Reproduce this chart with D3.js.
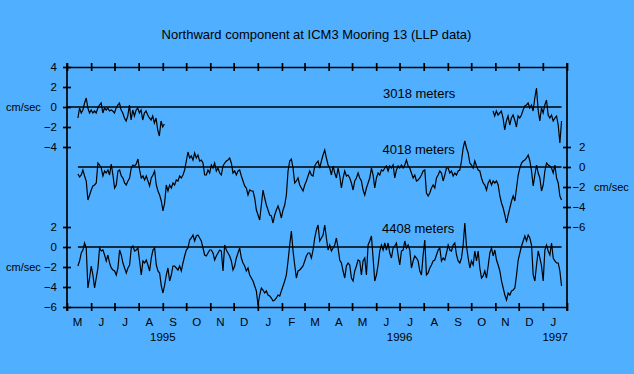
<!DOCTYPE html>
<html>
<head>
<meta charset="utf-8">
<script src="https://cdn.jsdelivr.net/npm/d3@7"></script>
<style>
  body { margin: 0; background: #50b0ff; }
  svg { display: block; font-family: "Liberation Sans", Arial, sans-serif; }
</style>
</head>
<body>
<svg id="chart" width="634" height="374"></svg>
<script>
// month letters along the bottom, May 1995 .. Jan 1997
const monthLetters = ["M","J","J","A","S","O","N","D","J","F","M","A","M","J","J","A","S","O","N","D","J"];
const yearLabels = ["1995", "1996", "1997"];
const yearDates = ["1995-09-01", "1996-07-01", "1997-02-01"];

const topTicks = [4, 2, 0, -2, -4];
const midTicks = [2, 0, -2, -4, -6];
const botTicks = [2, 0, -2, -4, -6];

// 3018 m, two pieces of record (cm/sec)
const top1Start = "1995-05-15", top1End = "1995-09-03";
const top1 = [
  -1.1,-0.1,-0.6,-0.3,0.4,0.9,-0.1,-0.6,-0.3,-0.6,
  -0.4,-0.6,-0.1,0.2,0.4,-0.6,-0.1,-0.3,-0.1,-0.4,
  -0.3,-0.4,-0.6,-0.1,0.2,0.4,-0.3,-0.6,-1.1,-1.4,
  -0.9,0.2,-1.3,-0.3,-0.9,-0.3,-0.1,-0.6,-0.3,-1.3,
  -0.6,-0.4,-0.8,-1.1,-1.3,-0.9,-1.6,-1.1,-2.3,-2.9,
  -1.4,-2.0,-1.7
];
const top2Start = "1996-10-29", top2End = "1997-01-25";
const top2 = [
  -0.4,-0.9,-0.4,-0.8,-0.6,-0.4,-1.1,-2.3,-1.4,-0.9,
  -1.8,-1.1,-0.8,-1.3,-2.0,-0.9,-1.1,-0.8,-0.3,0.1,
  0.2,0.4,-0.1,0.2,-0.4,0.9,1.9,-0.3,-1.4,-0.1,
  -0.6,0.2,0.7,-0.8,-1.1,-0.8,-1.4,-1.1,-0.9,-1.8,
  -3.6,-1.4
];

// 4018 m and 4408 m, same span
const deepStart = "1995-05-15", deepEnd = "1997-01-25";
const mid4018 = [
  -0.7,-1.0,-0.8,-0.3,-0.9,-1.4,-3.3,-2.8,-2.3,-1.9,
  -1.8,-1.6,0.4,0.2,-0.1,-0.9,-0.4,-0.6,-0.3,-0.8,
  0.3,-0.8,-2.1,-1.8,-0.4,-0.3,-0.9,-1.1,-1.6,-1.8,
  -1.4,-1.1,-0.1,0.2,0.1,0.3,0.8,-0.3,-1.1,-0.9,
  -1.3,-0.9,-1.4,-1.9,-1.1,-0.8,-0.4,-1.8,-2.4,-2.8,
  -3.4,-4.4,-3.6,-1.8,-2.4,-1.8,-2.1,-1.6,-1.8,-1.3,
  -1.4,-0.9,-1.1,-0.8,-0.3,0.6,1.5,0.9,1.1,0.7,
  1.4,0.9,1.2,0.6,0.7,0.4,-0.8,-0.8,-0.3,-0.6,
  0.2,-0.1,0.4,-0.4,-0.1,-0.6,-0.8,0.1,0.4,0.6,
  0.7,0.9,0.4,-0.6,-0.4,-0.8,-0.4,-0.3,
  -0.9,-1.4,-1.9,-2.1,-2.8,-2.3,-2.4,-2.4,-3.1,-4.3,
  -4.8,-5.3,-3.8,-2.3,-3.1,-3.8,-4.3,-4.8,-4.9,-5.6,
  -4.8,-4.3,-3.9,-4.4,-5.1,-4.3,-3.8,-2.8,-0.4,0.6,
  0.8,-0.1,-1.6,-1.4,-1.1,-1.8,-2.1,-2.4,-1.8,-1.4,
  -0.9,-0.4,-0.8,-0.9,0.1,0.4,0.6,-0.1,0.6,1.2,
  1.7,0.9,0.2,-0.1,-0.8,0.1,-0.6,-1.1,-0.1,-0.9,
  -2.1,-1.1,-0.4,-0.9,-0.8,-1.1,-1.6,-2.3,-1.4,-1.1,
  -0.6,-1.1,-1.4,-2.3,-2.8,-2.1,-1.6,-1.1,-0.1,-0.8,
  -2.1,-1.1,-0.6,-0.8,-0.3,-0.4,-0.1,0.1,-0.4,0.1,
  -0.1,0.2,-1.1,-0.3,0.1,-0.1,0.2,-0.1,
  0.2,0.7,0.1,-0.1,-0.6,-1.1,-0.8,-1.4,-1.3,-1.1,
  -0.8,-0.4,-0.3,-2.6,-2.9,-2.6,-2.1,-1.8,-2.1,-1.1,
  -0.8,-0.4,-0.6,-1.4,-0.8,-0.1,-0.1,-0.6,-0.4,-0.9,
  -0.6,-0.8,-0.4,-0.3,0.6,1.9,2.6,1.9,1.4,0.4,
  0.2,-0.1,0.6,0.1,-0.3,-0.4,-1.1,-1.6,-1.8,-2.3,
  -1.6,-1.3,-1.8,-1.4,-1.6,-1.4,-1.8,-2.9,-3.6,-4.1,
  -4.8,-5.6,-4.8,-4.1,-3.4,-2.9,-3.4,-2.1,-0.8,-0.1,
  0.4,0.6,0.7,0.9,1.2,0.6,-0.4,-1.9,-0.8,0.2,
  -0.6,-1.1,-2.4,-1.8,-0.4,0.4,0.2,0.1,-0.1,-0.6,
  0.2,-1.1,-1.6,-2.9,-3.3
];
const bot4408 = [
  -1.9,-1.4,-0.6,-0.3,0.4,-0.1,-4.1,-3.1,-1.9,-2.8,
  -4.1,-3.1,-2.1,-0.1,-0.4,-0.3,-0.8,-1.4,-0.8,-1.6,
  -2.1,-2.3,-2.4,-2.8,-2.1,-0.3,-0.8,-1.6,-2.1,-2.6,
  -2.1,-1.8,-0.1,0.1,-0.4,-0.3,-0.1,-1.4,-2.8,-1.4,
  -1.6,-1.3,-1.8,-2.4,-1.1,-0.3,-0.1,-1.8,-2.4,-2.6,
  -3.9,-4.6,-3.8,-2.8,-2.1,-3.4,-2.8,-1.9,-1.9,-2.1,
  -2.3,-1.9,-2.4,-1.6,-0.9,-0.3,-0.1,0.7,0.9,1.2,
  0.6,1.1,1.2,0.9,0.6,-0.1,-0.8,-0.9,-0.6,-0.3,
  -0.3,-0.6,-1.3,-0.9,-0.6,-0.3,-0.4,-2.4,0.2,-0.3,
  -0.6,-0.9,-1.4,-2.3,-1.9,-1.1,-0.6,-0.1,
  -1.1,-1.6,-1.9,-2.4,-2.1,-2.8,-3.1,-3.4,-3.9,-4.4,
  -5.8,-4.8,-4.1,-4.3,-4.6,-4.4,-4.8,-4.9,-5.1,-5.4,
  -5.3,-5.1,-4.8,-4.9,-4.4,-3.9,-3.4,-2.8,-1.4,0.2,
  1.6,-0.4,-1.8,-3.1,-2.4,-2.3,-2.1,-1.9,-1.4,-0.9,
  -0.6,-0.6,-1.1,-0.3,0.9,1.7,2.2,0.6,0.9,1.2,
  2.2,0.9,-0.3,0.2,-0.4,-0.1,0.2,0.9,-0.1,-1.3,
  -1.6,-2.4,-3.1,-1.9,-1.6,-1.8,-3.1,-3.4,-2.4,-1.9,
  -1.3,-1.4,-2.8,-1.4,-1.1,-2.8,0.2,0.6,1.1,-1.1,
  -3.4,-2.8,-1.8,-0.4,0.2,-0.3,0.4,-0.3,0.4,-0.6,
  -1.1,-0.1,0.1,0.4,-0.8,-1.8,-0.4,-0.3,
  0.6,-0.1,0.2,-0.3,-2.1,-1.4,-0.9,-1.1,-1.4,-2.4,
  -2.8,-0.8,0.7,-2.8,-2.6,-2.1,-1.8,-1.4,-1.3,-0.8,
  -0.3,-0.1,-1.4,-1.1,-1.3,-0.6,0.2,-0.3,-0.4,0.2,
  0.4,-0.8,-1.4,-1.6,-1.1,0.2,2.4,0.1,-1.1,-2.1,
  -1.4,-1.8,-0.4,-1.4,-0.4,-2.1,-3.1,-2.9,-2.4,-3.1,
  -1.9,-0.6,-0.1,-0.9,-0.3,-1.3,-1.8,-2.4,-3.4,-4.1,
  -4.8,-5.3,-4.6,-4.8,-4.4,-4.3,-4.1,-2.8,-1.3,-0.6,
  0.1,0.6,1.1,0.6,1.2,0.9,0.2,-2.8,-3.4,-1.8,
  -0.4,-1.1,-1.9,-3.4,-0.3,0.2,-0.4,-0.8,0.4,-1.1,
  -1.4,-1.6,-1.6,-2.4,-3.9
];

const parse = d3.timeParse("%Y-%m-%d");

// samples are evenly spaced between the first and last date of a record
function spread(values, start, end) {
  const t = d3.scaleLinear().domain([0, values.length - 1])
    .range([parse(start).getTime(), parse(end).getTime()]);
  return values.map((v, i) => ({ date: new Date(t(i)), value: v }));
}

const svg = d3.select("#chart");
const plotLeft = 67, plotRight = 567, plotTop = 67, plotBottom = 307;

const x = d3.scaleTime()
  .domain([parse("1995-05-01"), parse("1997-02-01")])
  .range([plotLeft, plotRight]);
const yTop = d3.scaleLinear().domain([-4, 4]).range([147, plotTop]);
const yMid = d3.scaleLinear().domain([-6, 2]).range([227, 147]);
const yBot = d3.scaleLinear().domain([-6, 2]).range([plotBottom, 227]);

const months = d3.timeMonth.range(x.domain()[0], d3.timeDay.offset(x.domain()[1], 1));

function styleAxis(g) {
  g.attr("font-family", null).attr("font-size", 11.5);
  g.selectAll("path, line").attr("stroke", "#000").attr("stroke-width", 1.7);
  g.selectAll("text").attr("fill", "#000");
}

// title
svg.append("text")
  .attr("x", 316.5).attr("y", 39)
  .attr("text-anchor", "middle")
  .attr("font-size", 13)
  .text("Northward component at ICM3 Mooring 13 (LLP data)");

// frame
svg.append("line").attr("x1", plotLeft).attr("x2", plotLeft).attr("y1", plotTop - 4).attr("y2", plotBottom + 4)
  .attr("stroke", "#000").attr("stroke-width", 1.7);
svg.append("line").attr("x1", plotRight).attr("x2", plotRight).attr("y1", plotTop - 4).attr("y2", plotBottom + 4)
  .attr("stroke", "#000").attr("stroke-width", 1.7);

// top and bottom time axes, ticks crossing the line
svg.append("g")
  .attr("transform", `translate(0,${plotTop})`)
  .call(d3.axisTop(x).tickValues(months).tickSize(4).tickSizeOuter(0).tickFormat(""))
  .call(styleAxis)
  .call(g => g.selectAll(".tick line").attr("y2", 4).attr("y1", -4));

svg.append("g")
  .attr("transform", `translate(0,${plotBottom})`)
  .call(d3.axisBottom(x).tickValues(months).tickSize(4).tickSizeOuter(0).tickFormat(""))
  .call(styleAxis)
  .call(g => g.selectAll(".tick line").attr("y1", -4).attr("y2", 4));

// month letters centred in each month
svg.append("g").selectAll("text")
  .data(monthLetters)
  .join("text")
  .attr("x", (d, i) => (x(months[i]) + x(months[i + 1])) / 2 - 1.5)
  .attr("y", 325.5)
  .attr("text-anchor", "middle")
  .attr("font-size", 11.5)
  .text(d => d);

svg.append("g").selectAll("text")
  .data(yearLabels)
  .join("text")
  .attr("x", (d, i) => x(parse(yearDates[i])) + (i === 2 ? 1 : 0))
  .attr("y", 341)
  .attr("text-anchor", (d, i) => i === 2 ? "end" : "middle")
  .attr("font-size", 11.5)
  .text(d => d);

// value axes
function leftAxis(scale, ticks) {
  svg.append("g")
    .attr("transform", `translate(${plotLeft},0)`)
    .call(d3.axisLeft(scale).tickValues(ticks).tickSize(4).tickPadding(6))
    .call(styleAxis)
    .call(g => g.select(".domain").remove())
    .call(g => g.selectAll(".tick line").attr("x1", 4).attr("x2", -4));
}
leftAxis(yTop, topTicks);
leftAxis(yBot, botTicks);

svg.append("g")
  .attr("transform", `translate(${plotRight},0)`)
  .call(d3.axisRight(yMid).tickValues(midTicks).tickSize(4).tickPadding(6))
  .call(styleAxis)
  .call(g => g.select(".domain").remove())
  .call(g => g.selectAll(".tick line").attr("x1", -4).attr("x2", 4))
  .call(g => g.selectAll(".tick text").attr("text-anchor", "end").attr("x", 18.5));

// unit labels
svg.append("text").attr("x", 6).attr("y", yTop(0) + 4).attr("font-size", 11).text("cm/sec");
svg.append("text").attr("x", 6).attr("y", yBot(-2) + 4).attr("font-size", 11).text("cm/sec");
svg.append("text").attr("x", 594).attr("y", yMid(-2) + 4).attr("font-size", 11).text("cm/sec");

// zero reference lines
const lastDay = parse(deepEnd);
function zeroLine(scale, from) {
  svg.append("line")
    .attr("x1", x(from)).attr("x2", x(lastDay))
    .attr("y1", scale(0)).attr("y2", scale(0))
    .attr("stroke", "#000").attr("stroke-width", 1.4);
}
zeroLine(yTop, x.domain()[0]);
zeroLine(yMid, parse(deepStart));
zeroLine(yBot, parse(deepStart));

// series
function drawSeries(data, scale) {
  const line = d3.line().x(d => x(d.date)).y(d => scale(d.value));
  svg.append("path")
    .datum(data)
    .attr("d", line)
    .attr("fill", "none")
    .attr("stroke", "#000")
    .attr("stroke-width", 1.2)
    .attr("stroke-linejoin", "miter");
}
drawSeries(spread(top1, top1Start, top1End), yTop);
drawSeries(spread(top2, top2Start, top2End), yTop);
drawSeries(spread(mid4018, deepStart, deepEnd), yMid);
drawSeries(spread(bot4408, deepStart, deepEnd), yBot);

// depth labels
svg.append("text").attr("x", 383).attr("y", 97.5).attr("font-size", 13).text("3018 meters");
svg.append("text").attr("x", 382.5).attr("y", 154).attr("font-size", 13).text("4018 meters");
svg.append("text").attr("x", 382).attr("y", 233).attr("font-size", 13).text("4408 meters");
</script>
</body>
</html>
